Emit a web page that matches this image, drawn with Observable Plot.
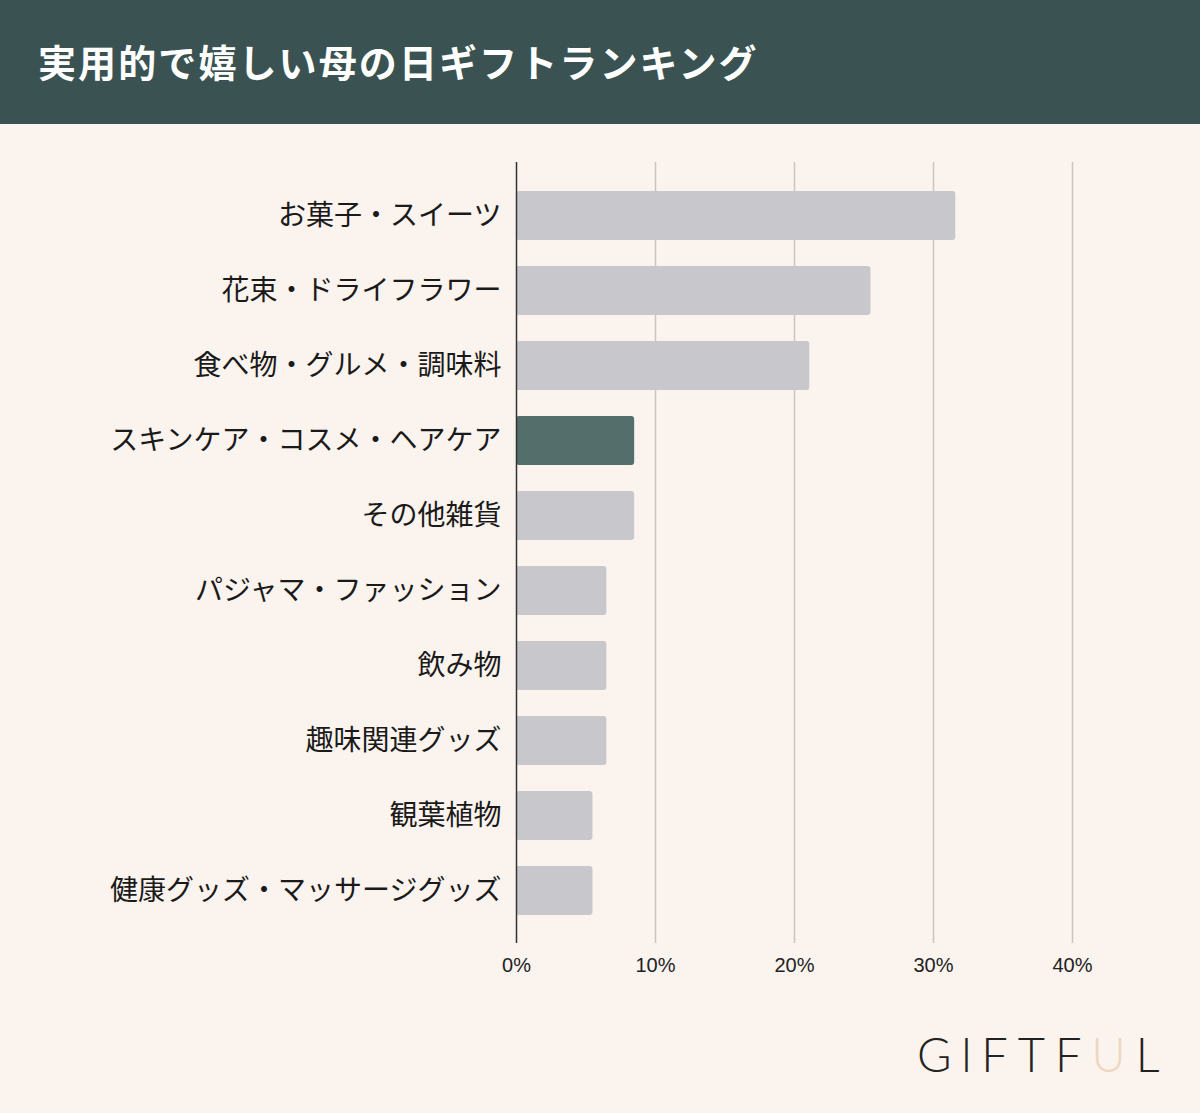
<!DOCTYPE html>
<html><head><meta charset="utf-8">
<script src="https://cdn.jsdelivr.net/npm/d3@7"></script>
<script src="https://cdn.jsdelivr.net/npm/@observablehq/plot@0.6"></script>
<style>
html,body{margin:0;padding:0;background:#faf3ee;}
#wrap{position:relative;width:1200px;height:1113px;background:#faf3ee;overflow:hidden;}
#header{height:124px;background:#3a5352;color:#fff;font-family:"Noto Sans CJK JP";font-weight:700;font-size:38px;line-height:122px;padding-left:38px;box-sizing:border-box;letter-spacing:2.1px;}
#chart{position:absolute;left:0;top:124px;}
#logo{position:absolute;left:917px;top:1026px;font-family:Lato,"DejaVu Sans";font-weight:300;font-size:47px;letter-spacing:10px;color:#222;}
#logo span{color:#f0d6bf;}
</style></head>
<body><div id="wrap"><div id="header">実用的で嬉しい母の日ギフトランキング</div><div id="chart"></div><div id="logo">GlFTF<span>U</span>L</div></div>
<script>
const categories = ["お菓子・スイーツ","花束・ドライフラワー","食べ物・グルメ・調味料","スキンケア・コスメ・ヘアケア","その他雑貨","パジャマ・ファッション","飲み物","趣味関連グッズ","観葉植物","健康グッズ・マッサージグッズ"];
const values = [31.6, 25.5, 21.1, 8.5, 8.5, 6.5, 6.5, 6.5, 5.5, 5.5];
const highlighted = ["スキンケア・コスメ・ヘアケア"];
const xTicks = [0, 10, 20, 30, 40];

const data = categories.map((c, i) => ({category: c, value: values[i], hi: highlighted.includes(c)}));

const chart = Plot.plot({
  width: 1200,
  height: 880,
  marginLeft: 516,
  marginRight: 128,
  marginTop: 38,
  marginBottom: 61,
  style: {background: "transparent", fontFamily: "Noto Sans CJK JP"},
  x: {domain: [0, 40], ticks: xTicks, tickFormat: d => d + "%", label: null, tickSize: 0, tickPadding: 14},
  y: {domain: categories, label: null, tickSize: 0, tickPadding: 15, paddingInner: 0.35, paddingOuter: 0.35},
  marks: [
    Plot.ruleX(xTicks.filter(d => d > 0), {stroke: "#cdc3c0", strokeWidth: 1.5}),
    Plot.barX(data, {y: "category", x: "value", fill: d => d.hi ? "#546e6c" : "#c8c8cc", rx: 3}),
    Plot.ruleX([0], {stroke: "#333", strokeWidth: 1.5}),
    Plot.axisY({tickSize: 0, tickPadding: 15, fontSize: 28, fill: "#1a1a1a", fontFamily: "Noto Sans CJK JP"}),
    Plot.axisX({ticks: xTicks, tickFormat: d => d + "%", tickSize: 0, tickPadding: 14, fontSize: 20, fill: "#222", fontFamily: "Liberation Sans"})
  ]
});
document.getElementById("chart").appendChild(chart);
</script></body></html>
